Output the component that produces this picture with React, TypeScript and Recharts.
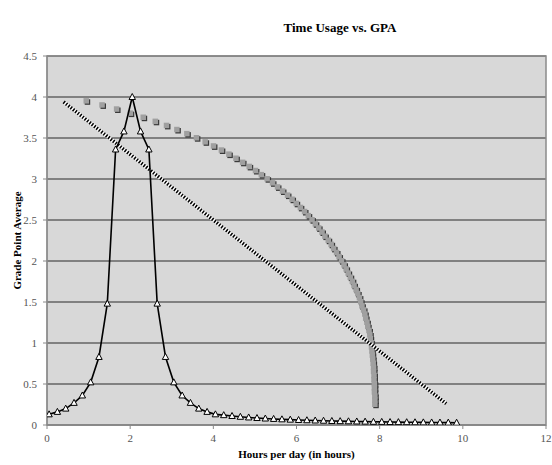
import React from 'react';
import { ScatterChart, Scatter, XAxis, YAxis, CartesianGrid, ReferenceArea, Label } from 'recharts';

// peaked series (black line, white triangles)
const peakX = [
  0.05, 0.25, 0.45, 0.65, 0.85, 1.05, 1.25, 1.45, 1.65, 1.85, 2.05, 2.25, 2.45, 2.65, 2.85, 3.05, 3.25, 3.45, 3.65, 3.85,
  4.05, 4.25, 4.45, 4.65, 4.85, 5.05, 5.25, 5.45, 5.65, 5.85, 6.05, 6.25, 6.45, 6.65, 6.85, 7.05, 7.25, 7.45, 7.65, 7.85,
  8.05, 8.25, 8.45, 8.65, 8.85, 9.05, 9.25, 9.45, 9.65, 9.85,
];
const peakY = [
  0.13, 0.16, 0.2, 0.27, 0.36, 0.52, 0.83, 1.48, 3.36, 3.58, 4.0, 3.58, 3.36, 1.48, 0.83, 0.52, 0.36, 0.27, 0.2, 0.16,
  0.13, 0.12, 0.11, 0.1, 0.092, 0.085, 0.079, 0.074, 0.069, 0.065, 0.061, 0.058, 0.055, 0.052, 0.049, 0.047, 0.045, 0.043, 0.041, 0.039,
  0.038, 0.036, 0.035, 0.034, 0.033, 0.032, 0.031, 0.03, 0.029, 0.028,
];

// curved series (gray squares)
const curveX = [
  0.95, 1.33, 1.68, 2.01, 2.32, 2.61, 2.88, 3.13, 3.37, 3.6,
  3.81, 4.01, 4.2, 4.38, 4.55, 4.71, 4.87, 5.02, 5.16, 5.3,
  5.43, 5.55, 5.67, 5.79, 5.9, 6.0, 6.1, 6.2, 6.29, 6.38,
  6.46, 6.54, 6.62, 6.69, 6.77, 6.84, 6.9, 6.97, 7.03, 7.09,
  7.15, 7.2, 7.25, 7.3, 7.35, 7.39, 7.44, 7.48, 7.52, 7.55,
  7.58, 7.62, 7.65, 7.67, 7.7, 7.72, 7.75, 7.77, 7.78, 7.8,
  7.81, 7.82, 7.83, 7.84, 7.85, 7.86, 7.86, 7.87, 7.87, 7.88, 7.88, 7.88, 7.89, 7.89, 7.89,
];
const curveY = [
  3.95, 3.9, 3.85, 3.8, 3.75, 3.7, 3.65, 3.6, 3.55, 3.5,
  3.45, 3.4, 3.35, 3.3, 3.25, 3.2, 3.15, 3.1, 3.05, 3.0,
  2.95, 2.9, 2.85, 2.8, 2.75, 2.7, 2.65, 2.6, 2.55, 2.5,
  2.45, 2.4, 2.35, 2.3, 2.25, 2.2, 2.15, 2.1, 2.05, 2.0,
  1.95, 1.9, 1.85, 1.8, 1.75, 1.7, 1.65, 1.6, 1.55, 1.5,
  1.45, 1.4, 1.35, 1.3, 1.25, 1.2, 1.15, 1.1, 1.05, 1.0,
  0.95, 0.9, 0.85, 0.8, 0.75, 0.7, 0.65, 0.6, 0.55, 0.5, 0.45, 0.4, 0.35, 0.3, 0.25,
];

// straight dotted series
const lineX = [0.4, 9.6];
const lineY = [3.94, 0.26];

const xTicks = [0, 2, 4, 6, 8, 10, 12];
const yTicks = [0, 0.5, 1, 1.5, 2, 2.5, 3, 3.5, 4, 4.5];

const zip = (xs: number[], ys: number[]) => xs.map((x, i) => ({ x, y: ys[i] }));

const peakData = zip(peakX, peakY);
const curveData = zip(curveX, curveY);
const lineData = zip(lineX, lineY);

const font = '"Liberation Serif", "Times New Roman", serif';

const Triangle = (props: any) => {
  const { cx, cy } = props;
  return (
    <path
      d={`M${cx},${cy - 3.5} L${cx + 3.2},${cy + 2.5} L${cx - 3.2},${cy + 2.5} Z`}
      fill="#fff"
      stroke="#000"
      strokeWidth={1}
    />
  );
};

const Square = (props: any) => {
  const { cx, cy } = props;
  return (
    <g>
      <rect x={cx - 1.8} y={cy - 1.8} width={5.5} height={5.5} fill="#3a3a3a" />
      <rect x={cx - 3} y={cy - 3} width={5.5} height={5.5} fill="#a0a0a0" />
    </g>
  );
};

const Nothing = () => null;

const App = () => {
  return (
    <div style={{ position: 'absolute', left: 0, top: 0, width: 552, height: 465, background: '#fff', fontFamily: font }}>
      <div
        style={{
          position: 'absolute',
          left: 340,
          top: 20,
          transform: 'translateX(-50%)',
          fontWeight: 'bold',
          fontSize: 13,
          whiteSpace: 'nowrap',
        }}
      >
        Time Usage vs. GPA
      </div>
      <ScatterChart width={552} height={465} margin={{ top: 56, right: 6, bottom: 0, left: 0 }}>
        <CartesianGrid vertical={false} stroke="#2a2a2a" strokeWidth={1.2} fill="#d8d8d8" fillOpacity={1} />
        <XAxis
          type="number"
          dataKey="x"
          domain={[0, 12]}
          ticks={xTicks}
          height={40}
          tickSize={4}
          tickMargin={5}
          stroke="#888"
          tick={{ fill: '#555', fontSize: 11, fontFamily: font }}
          allowDataOverflow
        >
          <Label
            value="Hours per day (in hours)"
            position="insideBottom"
            offset={7}
            style={{ fontWeight: 'bold', fontSize: 11, fontFamily: font, fill: '#000' }}
          />
        </XAxis>
        <YAxis
          type="number"
          dataKey="y"
          domain={[0, 4.5]}
          ticks={yTicks}
          width={47}
          tickSize={4}
          tickMargin={6}
          stroke="#888"
          tick={{ fill: '#555', fontSize: 11, fontFamily: font }}
          allowDataOverflow
        >
          <Label
            value="Grade Point Average"
            angle={-90}
            position="insideLeft"
            offset={17}
            style={{ fontWeight: 'bold', fontSize: 11, fontFamily: font, fill: '#000', textAnchor: 'middle' }}
          />
        </YAxis>
        <ReferenceArea x1={0} x2={12} y1={0} y2={4.5} fill="none" stroke="#8a8a8a" strokeWidth={1.5} />
        <Scatter data={curveData} shape={<Square />} isAnimationActive={false} />
        <Scatter
          data={lineData}
          line={{ stroke: '#fff', strokeWidth: 3.5 }}
          shape={<Nothing />}
          isAnimationActive={false}
        />
        <Scatter
          data={lineData}
          line={{ stroke: '#000', strokeWidth: 3.5, strokeDasharray: '1.5 1.5' }}
          shape={<Nothing />}
          isAnimationActive={false}
        />
        <Scatter
          data={peakData}
          line={{ stroke: '#000', strokeWidth: 1.6 }}
          shape={<Triangle />}
          isAnimationActive={false}
        />
      </ScatterChart>
    </div>
  );
};

export default App;
